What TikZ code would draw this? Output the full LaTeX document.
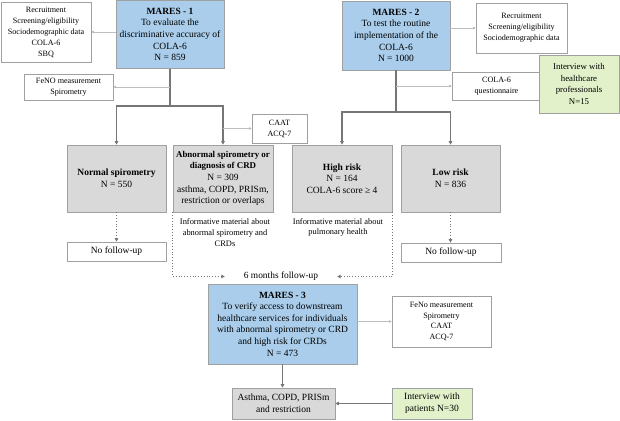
\documentclass[tikz,border=0pt]{standalone}
\usepackage{fontspec}
\setmainfont{Liberation Serif}
\usetikzlibrary{arrows.meta}
\definecolor{bluefill}{HTML}{A9CDEB}
\definecolor{grayfill}{HTML}{D9D9D9}
\definecolor{greenfill}{HTML}{E2F1CA}
\definecolor{boxline}{HTML}{A0A0A0}
\definecolor{connline}{HTML}{767676}
\definecolor{thinline}{HTML}{BDBDBD}
\begin{document}
\begin{tikzpicture}[x=1pt,y=-1pt,
  bx/.style 2 args={draw=boxline, line width=0.6pt, minimum width=#1, minimum height=#2, inner sep=1pt, align=center},
  bluebox/.style={fill=bluefill},
  graybox/.style={fill=grayfill},
  greenbox/.style={fill=greenfill},
  mainfont/.style={font=\fontsize{9.5}{11.6}\selectfont},
  smallfont/.style={font=\fontsize{8.1}{11}\selectfont},
  tinyfont/.style={font=\fontsize{8.1}{10.6}\selectfont},
  infofont/.style={font=\fontsize{8.4}{10.6}\selectfont},
  plain/.style={inner sep=1pt, align=center},
  main/.style={draw=connline, line width=1.3pt},
  tip/.tip={Triangle[length=3.5pt,width=3.5pt]},
  dots/.style={draw=connline, line width=0.8pt, dotted, -{Triangle[length=3.5pt,width=3.5pt]}},
  thinarr/.style={draw=thinline, line width=0.6pt, -{Triangle[length=2.5pt,width=2.5pt]}}
]
\useasboundingbox (0,0) rectangle (620,420);

% MARES-1 column
\node[bx={108}{68}, bluebox, mainfont] (m1) at (170,34.5) {\textbf{MARES - 1}\\To evaluate the\\discriminative accuracy of\\COLA-6\\N = 859};
\node[bx={90}{60}, smallfont] (rec1) at (46,32) {Recruitment\\Screening/eligibility\\Sociodemographic data\\COLA-6\\SBQ};
\node[bx={89}{26}, tinyfont] (feno1) at (68.5,87) {FeNO measurement\\Spirometry};
\node[bx={55}{29}, smallfont] (caat) at (279.5,128.5) {CAAT\\ACQ-7};
\node[bx={99}{67}, graybox, mainfont] (normal) at (116.5,178.5) {\textbf{Normal spirometry}\\N = 550};
\node[bx={100}{67}, graybox, mainfont] (abn) at (223,178.5) {{\fontsize{8.9}{11.6}\selectfont\textbf{Abnormal spirometry or}}\\{\fontsize{8.9}{11.6}\selectfont\textbf{diagnosis of CRD}}\\N = 309\\asthma, COPD, PRISm,\\restriction or overlaps};
\node[plain, infofont] (info1) at (225,232.5) {Informative material about\\abnormal spirometry and\\CRDs};
\node[bx={99}{19}, mainfont] (nofu1) at (116.5,251.5) {No follow-up};

% MARES-2 column
\node[bx={108}{69}, bluebox, mainfont] (m2) at (396,35.5) {\textbf{MARES - 2}\\To test the routine\\implementation of the\\COLA-6\\N = 1000};
\node[bx={91}{50}, smallfont] (rec2) at (521.5,28) {Recruitment\\Screening/eligibility\\Sociodemographic data};
\node[bx={89}{28}, smallfont] (cola) at (496.5,86) {COLA-6\\questionnaire};
\node[bx={80}{58}, greenbox, font=\fontsize{8.8}{11.4}\selectfont] (green1) at (579,84) {Interview with\\healthcare\\professionals\\N=15};
\node[bx={100}{67}, graybox, mainfont] (high) at (342,178.5) {\textbf{High risk}\\N = 164\\COLA-6 score ≥ 4};
\node[bx={99}{67}, graybox, mainfont] (low) at (450.5,178.5) {\textbf{Low risk}\\N = 836};
\node[plain, infofont] (info2) at (338,227.5) {Informative material about\\pulmonary health};
\node[bx={100}{19}, mainfont] (nofu2) at (451,252.5) {No follow-up};

% follow-up and MARES-3
\node[plain, font=\fontsize{9.4}{11}\selectfont, minimum width=112] (fu) at (281,276.5) {6 months follow-up};
\node[bx={149}{80}, bluebox, mainfont] (m3) at (282.5,324) {\textbf{MARES - 3}\\To verify access to downstream\\healthcare services for individuals\\with abnormal spirometry or CRD\\and high risk for CRDs\\N = 473};
\node[bx={99}{51}, tinyfont] (feno3) at (441.5,321.5) {FeNo measurement\\Spirometry\\CAAT\\ACQ-7};
\node[bx={103}{31}, graybox, mainfont] (bottom) at (283.5,403.5) {Asthma, COPD, PRISm\\and restriction};
\node[bx={80}{31}, greenbox, mainfont] (green2) at (432,403.5) {Interview with\\patients N=30};

% connectors MARES-1
\coordinate (j1) at (170,106);
\draw[main] (m1.south) -- (j1);
\draw[main, tip-tip] (normal.north) -- (normal.north |- j1) -- (abn.north |- j1) -- (abn.north);
\draw[thinarr] (m1.west |- rec1.east) -- (rec1.east);
\draw[thinarr] (j1 |- feno1.east) -- (feno1.east);
\draw[thinarr] (abn.north |- caat.west) -- (caat.west);
\draw[dots] (normal.south) -- (nofu1.north);
\draw[dots] (abn.south west) -- (abn.south west |- fu.west) -- (fu.west);

% connectors MARES-2
\coordinate (j2) at (396,112);
\draw[main] (m2.south) -- (j2);
\draw[main, tip-tip] (high.north) -- (high.north |- j2) -- (low.north |- j2) -- (low.north);
\draw[thinarr] (m2.east |- rec2.west) -- (rec2.west);
\draw[thinarr] (j2 |- cola.west) -- (cola.west);
\draw[dots] (low.south) -- (low.south |- nofu2.north);
\draw[dots] (high.south east) -- (high.south east |- fu.east) -- (fu.east);

% connectors MARES-3
\draw[thinarr] (m3.east |- feno3.west) -- (feno3.west);
\draw[main, -tip] (m3.south) -- (m3.south |- bottom.north);
\draw[main, -tip] (green2.west) -- (bottom.east);
\end{tikzpicture}
\end{document}
